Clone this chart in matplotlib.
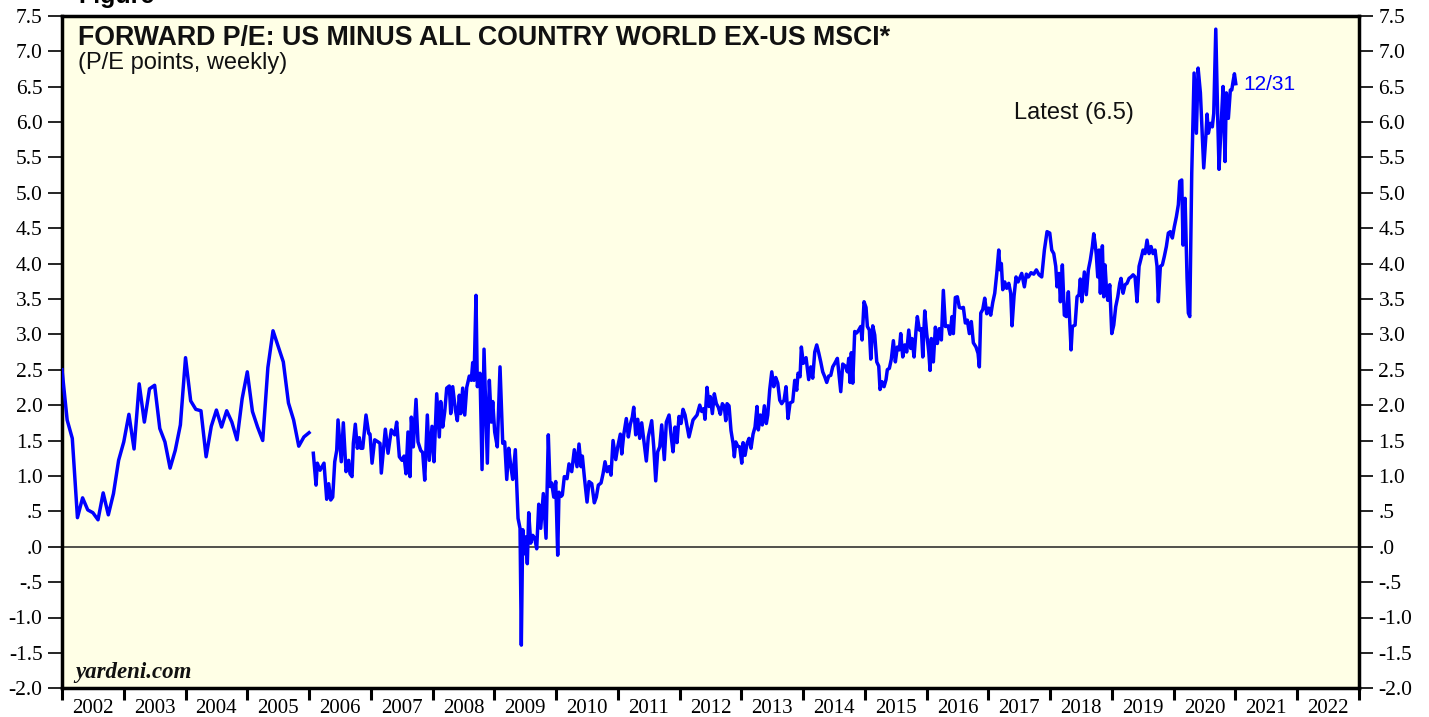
import numpy as np
import matplotlib
matplotlib.use("Agg")
import matplotlib.pyplot as plt
from matplotlib.ticker import FuncFormatter

plt.rcParams['font.family'] = 'Liberation Serif'

# monthly readings, Jan 2002 - Jan 2006
monthly_val = [2.50, 1.79, 1.53, 0.41, 0.69, 0.52, 0.48, 0.38, 0.76, 0.45,
               0.75, 1.22, 1.48, 1.87, 1.38, 2.30, 1.76, 2.23, 2.28, 1.67,
               1.48, 1.11, 1.36, 1.72, 2.67, 2.06, 1.94, 1.92, 1.27, 1.70,
               1.93, 1.69, 1.92, 1.76, 1.51, 2.09, 2.47, 1.91, 1.69, 1.50,
               2.53, 3.05, 2.83, 2.61, 2.03, 1.79, 1.42, 1.55, 1.61]
monthly_year = 2002 + np.arange(len(monthly_val)) / 12.0

# weekly readings (decimal year), 2006 - 12/31/2020
weekly_year = [
    2006.069, 2006.113, 2006.134, 2006.178, 2006.210, 2006.242, 2006.286, 2006.318, 2006.351, 2006.383,
    2006.416, 2006.448, 2006.469, 2006.522, 2006.555, 2006.599, 2006.642, 2006.663, 2006.696, 2006.717,
    2006.749, 2006.782, 2006.814, 2006.837, 2006.869, 2006.922, 2006.966, 2006.987, 2007.020, 2007.063,
    2007.117, 2007.149, 2007.170, 2007.203, 2007.235, 2007.279, 2007.332, 2007.387, 2007.419, 2007.462,
    2007.505, 2007.538, 2007.570, 2007.602, 2007.635, 2007.656, 2007.688, 2007.732, 2007.764, 2007.808,
    2007.840, 2007.873, 2007.915, 2007.947, 2007.991, 2008.023, 2008.067, 2008.109, 2008.132, 2008.164,
    2008.197, 2008.229, 2008.271, 2008.294, 2008.326, 2008.368, 2008.401, 2008.433, 2008.456, 2008.488,
    2008.521, 2008.553, 2008.595, 2008.627, 2008.650, 2008.671, 2008.703, 2008.725, 2008.768, 2008.801,
    2008.833, 2008.887, 2008.919, 2008.951, 2008.974, 2009.006, 2009.048, 2009.092, 2009.136, 2009.168,
    2009.201, 2009.233, 2009.265, 2009.298, 2009.340, 2009.384, 2009.416, 2009.437, 2009.460, 2009.492,
    2009.513, 2009.534, 2009.557, 2009.589, 2009.622, 2009.654, 2009.686, 2009.719, 2009.751, 2009.793,
    2009.837, 2009.874, 2009.902, 2009.929, 2009.962, 2009.994, 2010.026, 2010.047, 2010.080, 2010.101,
    2010.133, 2010.177, 2010.209, 2010.253, 2010.295, 2010.339, 2010.371, 2010.404, 2010.425, 2010.457,
    2010.501, 2010.533, 2010.577, 2010.619, 2010.651, 2010.684, 2010.728, 2010.760, 2010.792, 2010.825,
    2010.857, 2010.889, 2010.922, 2010.966, 2010.998, 2011.040, 2011.063, 2011.095, 2011.137, 2011.170,
    2011.202, 2011.234, 2011.257, 2011.289, 2011.322, 2011.354, 2011.386, 2011.419, 2011.461, 2011.493,
    2011.548, 2011.581, 2011.613, 2011.645, 2011.678, 2011.710, 2011.752, 2011.785, 2011.829, 2011.861,
    2011.893, 2011.926, 2011.958, 2011.990, 2012.023, 2012.055, 2012.088, 2012.152, 2012.217, 2012.282,
    2012.326, 2012.358, 2012.391, 2012.411, 2012.444, 2012.476, 2012.497, 2012.530, 2012.562, 2012.595,
    2012.627, 2012.659, 2012.692, 2012.724, 2012.747, 2012.768, 2012.800, 2012.832, 2012.865, 2012.886,
    2012.909, 2012.941, 2012.973, 2013.006, 2013.027, 2013.059, 2013.092, 2013.124, 2013.156, 2013.189,
    2013.221, 2013.253, 2013.274, 2013.307, 2013.339, 2013.372, 2013.404, 2013.427, 2013.459, 2013.492,
    2013.524, 2013.556, 2013.589, 2013.621, 2013.653, 2013.691, 2013.723, 2013.755, 2013.788, 2013.831,
    2013.864, 2013.896, 2013.917, 2013.950, 2013.971, 2014.003, 2014.047, 2014.090, 2014.123, 2014.155,
    2014.188, 2014.220, 2014.252, 2014.285, 2014.317, 2014.350, 2014.382, 2014.414, 2014.447, 2014.479,
    2014.512, 2014.554, 2014.609, 2014.641, 2014.683, 2014.716, 2014.738, 2014.759, 2014.780, 2014.803,
    2014.835, 2014.868, 2014.900, 2014.932, 2014.954, 2014.986, 2015.018, 2015.040, 2015.072, 2015.095,
    2015.127, 2015.159, 2015.192, 2015.224, 2015.245, 2015.277, 2015.310, 2015.342, 2015.363, 2015.396,
    2015.428, 2015.461, 2015.493, 2015.525, 2015.558, 2015.580, 2015.613, 2015.645, 2015.677, 2015.710,
    2015.742, 2015.763, 2015.796, 2015.828, 2015.849, 2015.882, 2015.914, 2015.937, 2015.969, 2016.001,
    2016.034, 2016.055, 2016.076, 2016.108, 2016.141, 2016.173, 2016.205, 2016.238, 2016.270, 2016.303,
    2016.346, 2016.378, 2016.411, 2016.432, 2016.464, 2016.497, 2016.529, 2016.562, 2016.594, 2016.626,
    2016.659, 2016.691, 2016.723, 2016.756, 2016.799, 2016.832, 2016.853, 2016.876, 2016.908, 2016.940,
    2016.973, 2017.005, 2017.037, 2017.070, 2017.102, 2017.135, 2017.167, 2017.188, 2017.209, 2017.232,
    2017.264, 2017.296, 2017.329, 2017.361, 2017.382, 2017.415, 2017.447, 2017.480, 2017.539, 2017.582,
    2017.614, 2017.647, 2017.690, 2017.734, 2017.776, 2017.820, 2017.863, 2017.906, 2017.949, 2017.993,
    2018.025, 2018.058, 2018.090, 2018.111, 2018.143, 2018.165, 2018.197, 2018.229, 2018.262, 2018.294,
    2018.338, 2018.359, 2018.403, 2018.435, 2018.467, 2018.488, 2018.511, 2018.553, 2018.585, 2018.618,
    2018.650, 2018.683, 2018.705, 2018.726, 2018.747, 2018.770, 2018.791, 2018.812, 2018.845, 2018.867,
    2018.888, 2018.909, 2018.932, 2018.964, 2018.997, 2019.029, 2019.061, 2019.094, 2019.126, 2019.147,
    2019.180, 2019.212, 2019.244, 2019.277, 2019.309, 2019.342, 2019.374, 2019.406, 2019.439, 2019.471,
    2019.504, 2019.536, 2019.568, 2019.601, 2019.633, 2019.665, 2019.698, 2019.730, 2019.751, 2019.784,
    2019.816, 2019.848, 2019.881, 2019.913, 2019.946, 2019.978, 2020.010, 2020.043, 2020.075, 2020.098,
    2020.130, 2020.151, 2020.184, 2020.216, 2020.237, 2020.260, 2020.292, 2020.330, 2020.367, 2020.395,
    2020.432, 2020.486, 2020.520, 2020.540, 2020.561, 2020.593, 2020.625, 2020.648, 2020.681, 2020.713,
    2020.734, 2020.766, 2020.799, 2020.831, 2020.852, 2020.885, 2020.917, 2020.940, 2020.961, 2020.983,
    2021.005]
weekly_val = [
    1.32, 0.87, 1.18, 1.08, 1.13, 1.18, 0.67, 0.89, 0.66, 0.70,
    1.20, 1.36, 1.79, 1.20, 1.75, 1.06, 1.22, 1.03, 0.99, 1.46,
    1.73, 1.39, 1.54, 1.39, 1.39, 1.86, 1.60, 1.59, 1.18, 1.51,
    1.48, 1.46, 1.04, 1.36, 1.66, 1.32, 1.65, 1.58, 1.76, 1.27,
    1.22, 1.28, 1.03, 1.62, 0.99, 1.83, 1.41, 2.08, 1.48, 1.36,
    1.33, 0.94, 1.86, 1.22, 1.70, 1.20, 2.16, 1.55, 2.05, 1.69,
    1.91, 2.24, 2.27, 1.88, 2.26, 1.94, 1.78, 2.14, 1.88, 2.24,
    1.86, 2.25, 2.41, 2.35, 2.60, 2.35, 3.55, 2.26, 2.45, 1.09,
    2.79, 1.18, 2.35, 1.76, 2.05, 1.62, 1.41, 2.54, 1.46, 1.48,
    0.95, 1.39, 1.15, 0.95, 1.37, 0.40, 0.26, -1.39, 0.24, -0.10,
    0.14, -0.24, 0.48, 0.05, 0.16, 0.12, -0.03, 0.60, 0.26, 0.75,
    0.12, 1.58, 0.85, 0.90, 0.70, 0.92, -0.12, 0.77, 0.71, 0.73,
    0.99, 0.96, 1.17, 1.06, 1.37, 1.13, 1.45, 1.13, 1.28, 0.99,
    0.63, 0.92, 0.89, 0.62, 0.70, 0.87, 0.90, 1.03, 1.20, 1.06,
    1.13, 1.01, 1.50, 1.23, 1.41, 1.59, 1.31, 1.58, 1.81, 1.55,
    1.73, 1.83, 1.97, 1.58, 1.80, 1.53, 1.75, 1.51, 1.21, 1.55,
    1.78, 1.41, 0.93, 1.34, 1.41, 1.72, 1.23, 1.76, 1.86, 1.58,
    1.34, 1.69, 1.47, 1.84, 1.74, 1.94, 1.86, 1.55, 1.79, 1.86,
    2.00, 1.91, 1.95, 1.80, 2.25, 1.98, 2.12, 1.88, 2.16, 2.02,
    1.97, 1.87, 2.02, 1.98, 1.78, 2.02, 1.99, 1.64, 1.46, 1.27,
    1.48, 1.42, 1.41, 1.18, 1.47, 1.29, 1.46, 1.53, 1.39, 1.59,
    1.69, 1.98, 1.65, 1.86, 1.72, 1.99, 1.74, 1.86, 2.22, 2.47,
    2.26, 2.39, 2.31, 2.07, 2.02, 2.07, 2.26, 1.81, 2.03, 2.05,
    2.35, 2.21, 2.45, 2.40, 2.82, 2.59, 2.67, 2.36, 2.54, 2.38,
    2.75, 2.85, 2.74, 2.61, 2.47, 2.40, 2.32, 2.41, 2.42, 2.54,
    2.59, 2.66, 2.19, 2.58, 2.55, 2.47, 2.66, 2.32, 2.74, 2.31,
    3.04, 3.02, 3.06, 3.11, 2.92, 3.46, 3.38, 3.11, 3.06, 2.65,
    3.12, 2.99, 2.61, 2.55, 2.22, 2.33, 2.26, 2.36, 2.50, 2.52,
    2.65, 2.91, 2.61, 2.82, 2.78, 3.01, 2.68, 2.85, 2.75, 3.06,
    2.80, 2.94, 2.68, 3.06, 3.25, 3.06, 3.08, 2.68, 3.33, 3.01,
    2.75, 2.49, 2.94, 2.61, 3.10, 2.87, 3.08, 2.92, 3.62, 3.11,
    3.12, 3.00, 3.25, 3.01, 3.52, 3.53, 3.38, 3.37, 3.38, 3.16,
    3.20, 3.01, 3.18, 2.88, 2.82, 2.73, 2.54, 3.30, 3.35, 3.51,
    3.29, 3.37, 3.27, 3.45, 3.58, 3.86, 4.19, 3.91, 4.00, 3.63,
    3.74, 3.65, 3.72, 3.58, 3.12, 3.54, 3.81, 3.74, 3.86, 3.67,
    3.85, 3.81, 3.87, 3.85, 3.91, 3.84, 3.81, 4.19, 4.45, 4.43,
    4.19, 4.14, 3.96, 3.67, 3.86, 3.46, 3.98, 3.27, 3.25, 3.60,
    2.78, 3.11, 3.13, 3.53, 3.56, 3.78, 3.46, 3.88, 3.56, 3.91,
    4.05, 4.24, 4.42, 4.29, 4.12, 3.81, 4.19, 3.58, 4.25, 3.53,
    3.98, 3.67, 3.48, 3.70, 3.01, 3.13, 3.39, 3.53, 3.72, 3.79,
    3.58, 3.70, 3.72, 3.79, 3.81, 3.84, 3.81, 3.46, 3.96, 4.07,
    4.19, 4.14, 4.33, 4.14, 4.24, 4.14, 4.19, 3.96, 3.46, 3.96,
    3.98, 4.10, 4.24, 4.43, 4.45, 4.36, 4.52, 4.66, 4.83, 5.16,
    5.18, 4.26, 4.92, 3.79, 3.30, 3.25, 5.28, 6.69, 5.84, 6.76,
    6.41, 5.35, 5.79, 6.11, 5.84, 5.98, 5.93, 6.12, 7.31, 6.03,
    5.33, 5.93, 6.50, 5.44, 6.41, 6.05, 6.45, 6.45, 6.57, 6.68,
    6.54]

year_labels = list(range(2002, 2023))
y_ticks = np.arange(-2.0, 7.51, 0.5)

title = "FORWARD P/E: US MINUS ALL COUNTRY WORLD EX-US MSCI*"
subtitle = "(P/E points, weekly)"
latest_txt = "Latest (6.5)"
date_txt = "12/31"


def ylab(v, pos):
    s = "%.1f" % v
    if s.startswith("0"):
        s = s[1:]
    elif s.startswith("-0"):
        s = "-" + s[2:]
    return s


fig = plt.figure(figsize=(14.29, 7.17), dpi=100)
ax = fig.add_axes([62 / 1429, 28.7 / 717, 1297 / 1429, 672.6 / 717])
ax.set_facecolor('#FFFFE6')

ax.axhline(0, color='#222222', lw=1.1, zorder=1)
ax.plot(monthly_year, monthly_val, color='#0000FF', lw=2.5, zorder=3)
ax.plot(weekly_year, weekly_val, color='#0000FF', lw=2.5, zorder=3)

ax.set_xlim(2002, 2023)
ax.set_ylim(-2.0, 7.5)

for sp in ax.spines.values():
    sp.set_linewidth(2.5)

ax.set_yticks(y_ticks)
ax.yaxis.set_major_formatter(FuncFormatter(ylab))
ax.tick_params(axis='y', which='major', direction='out', length=10, width=1.2,
               left=True, right=True, labelleft=True, labelright=True,
               labelsize=15.5, pad=4)

ax.set_xticks(range(2002, 2024))
ax.set_xticklabels([])
ax.set_xticks([y + 0.5 for y in year_labels], minor=True)
ax.set_xticklabels([str(y) for y in year_labels], minor=True)
ax.tick_params(axis='x', which='major', direction='out', length=8.5, width=2.2)
ax.tick_params(axis='x', which='minor', length=0, pad=8, labelsize=15)

ax.text(0.0123, 0.986, title, transform=ax.transAxes, ha='left', va='top',
        family='Liberation Sans', fontweight='bold', fontsize=19.3, color='#111111')
ax.text(0.0123, 0.946, subtitle, transform=ax.transAxes, ha='left', va='top',
        family='Liberation Sans', fontsize=17, color='#111111')
ax.text(0.734, 0.855, latest_txt, transform=ax.transAxes, ha='left', va='center',
        family='Liberation Sans', fontsize=17, color='#111111')
ax.text(0.9106, 0.897, date_txt, transform=ax.transAxes, ha='left', va='center',
        family='Liberation Sans', fontsize=15, color='#0000FF')
ax.text(0.010, 0.023, "yardeni.com", transform=ax.transAxes, ha='left', va='center',
        family='Liberation Serif', fontweight='bold', style='italic', fontsize=16.5,
        color='#111111')

fig.text(78 / 1429, 1 - 3 / 717, "Figure", ha='left', va='baseline',
         family='Liberation Sans', fontweight='bold', fontsize=18)

fig.savefig('out.png', dpi=100)
